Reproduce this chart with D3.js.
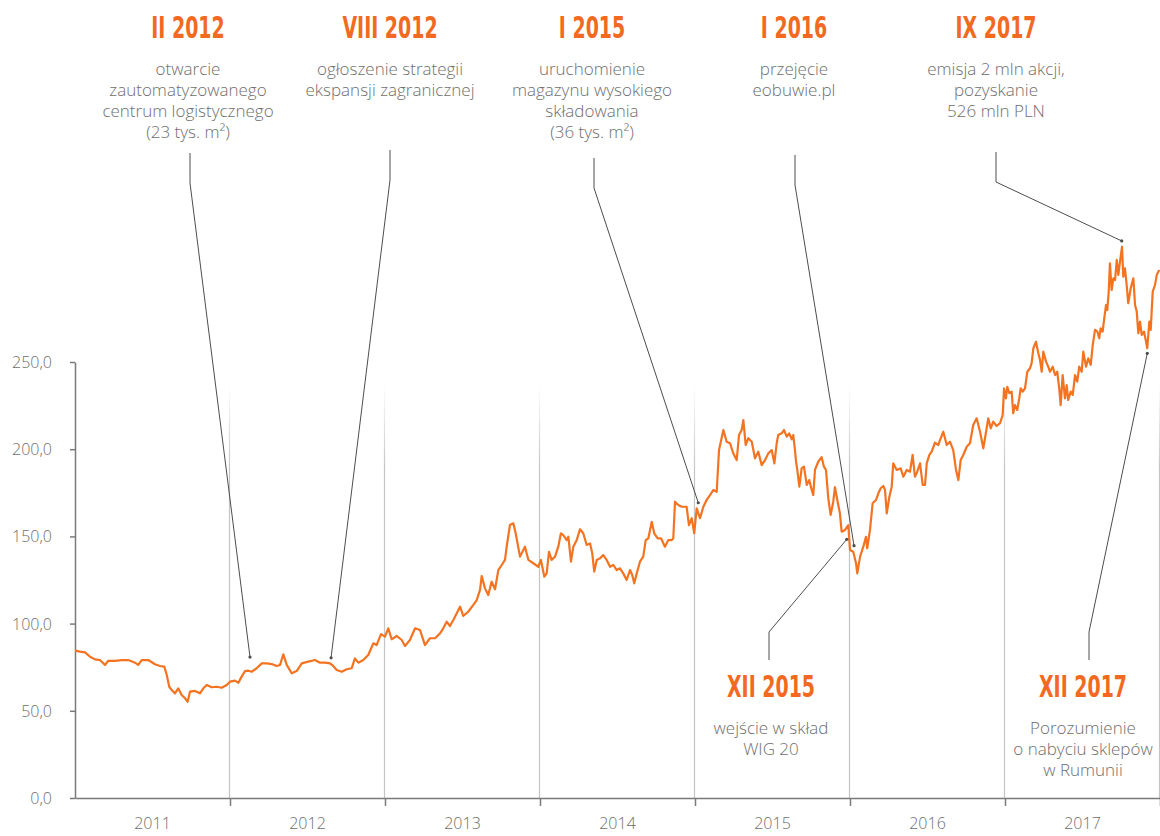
<!DOCTYPE html>
<html>
<head>
<meta charset="utf-8">
<script src="https://cdn.jsdelivr.net/npm/d3@7"></script>
<style>
  html, body { margin: 0; padding: 0; background: #fff; }
  svg { display: block; }
  .note { font-family: 'Open Sans', sans-serif; font-weight: 300; font-size: 17px; fill: #6e6e6e; }
  .head { font-family: 'Liberation Sans Narrow', 'DejaVu Sans Condensed', sans-serif; font-weight: bold; font-size: 31px; fill: #f26a21; }
  .axis text { font-family: 'Open Sans', sans-serif; font-weight: 300; font-size: 16px; fill: #6e6e6e; }
  .axis path, .axis line { stroke: #7a7a7a; stroke-width: 1.5px; }
</style>
</head>
<body>
<script>
// daily-ish closing prices (decimal year, PLN)
var times = [
  2011.000, 2011.032, 2011.065, 2011.097, 2011.129, 2011.161, 2011.194, 2011.215, 2011.258, 2011.301, 2011.344, 2011.387, 2011.408, 2011.430, 2011.473, 2011.516, 2011.548, 2011.576, 2011.592, 2011.608, 2011.624, 2011.645, 2011.666, 2011.688, 2011.710, 2011.727, 2011.742, 2011.774, 2011.806, 2011.828, 2011.850, 2011.882, 2011.914, 2011.946, 2011.979,
  2012.000, 2012.032, 2012.054, 2012.075, 2012.097, 2012.118, 2012.140, 2012.172, 2012.205, 2012.237, 2012.269, 2012.301, 2012.323, 2012.344, 2012.366, 2012.398, 2012.430, 2012.463, 2012.505, 2012.548, 2012.581, 2012.613, 2012.645, 2012.666, 2012.688, 2012.721, 2012.753, 2012.785, 2012.806, 2012.828, 2012.860, 2012.892, 2012.925, 2012.946, 2012.974,
  2013.000, 2013.021, 2013.043, 2013.075, 2013.108, 2013.129, 2013.161, 2013.194, 2013.226, 2013.258, 2013.290, 2013.323, 2013.355, 2013.376, 2013.398, 2013.419, 2013.441, 2013.463, 2013.484, 2013.505, 2013.537, 2013.570, 2013.592, 2013.613, 2013.624, 2013.645, 2013.666, 2013.688, 2013.710, 2013.731, 2013.753, 2013.774, 2013.785, 2013.806, 2013.828, 2013.843, 2013.871, 2013.903, 2013.925, 2013.957, 2013.989,
  2014.006, 2014.028, 2014.043, 2014.058, 2014.075, 2014.097, 2014.118, 2014.135, 2014.150, 2014.172, 2014.183, 2014.200, 2014.215, 2014.237, 2014.258, 2014.279, 2014.301, 2014.323, 2014.337, 2014.350, 2014.366, 2014.387, 2014.408, 2014.430, 2014.452, 2014.473, 2014.495, 2014.516, 2014.537, 2014.559, 2014.581, 2014.595, 2014.608, 2014.624, 2014.645, 2014.666, 2014.682, 2014.699, 2014.721, 2014.737, 2014.759, 2014.781, 2014.806, 2014.828, 2014.850, 2014.860, 2014.871, 2014.892, 2014.914, 2014.946, 2014.961, 2014.979, 2014.995,
  2015.011, 2015.032, 2015.054, 2015.075, 2015.097, 2015.118, 2015.140, 2015.155, 2015.183, 2015.204, 2015.226, 2015.247, 2015.269, 2015.284, 2015.301, 2015.312, 2015.327, 2015.344, 2015.366, 2015.387, 2015.408, 2015.430, 2015.452, 2015.473, 2015.495, 2015.512, 2015.527, 2015.537, 2015.559, 2015.574, 2015.592, 2015.608, 2015.624, 2015.634, 2015.645, 2015.652, 2015.660, 2015.673, 2015.688, 2015.703, 2015.721, 2015.737, 2015.753, 2015.763, 2015.774, 2015.795, 2015.817, 2015.832, 2015.845, 2015.860, 2015.875, 2015.892, 2015.903, 2015.918, 2015.935, 2015.946, 2015.968, 2015.989,
  2016.000, 2016.021, 2016.039, 2016.047, 2016.065, 2016.086, 2016.103, 2016.111, 2016.129, 2016.146, 2016.168, 2016.183, 2016.198, 2016.215, 2016.226, 2016.237, 2016.254, 2016.269, 2016.279, 2016.301, 2016.327, 2016.344, 2016.366, 2016.387, 2016.404, 2016.419, 2016.434, 2016.452, 2016.469, 2016.484, 2016.495, 2016.512, 2016.527, 2016.548, 2016.570, 2016.581, 2016.602, 2016.624, 2016.645, 2016.666, 2016.684, 2016.699, 2016.714, 2016.731, 2016.753, 2016.774, 2016.795, 2016.817, 2016.839, 2016.860, 2016.871, 2016.892, 2016.908, 2016.924, 2016.946, 2016.968, 2016.985, 2016.994,
  2017.006, 2017.015, 2017.028, 2017.043, 2017.053, 2017.065, 2017.079, 2017.092, 2017.101, 2017.114, 2017.129, 2017.144, 2017.161, 2017.172, 2017.183, 2017.200, 2017.215, 2017.226, 2017.237, 2017.247, 2017.265, 2017.279, 2017.290, 2017.308, 2017.323, 2017.337, 2017.350, 2017.359, 2017.372, 2017.387, 2017.398, 2017.408, 2017.424, 2017.437, 2017.452, 2017.466, 2017.479, 2017.495, 2017.505, 2017.523, 2017.537, 2017.553, 2017.566, 2017.581, 2017.596, 2017.608, 2017.617, 2017.630, 2017.639, 2017.652, 2017.660, 2017.669, 2017.677, 2017.688, 2017.699, 2017.710, 2017.721, 2017.731, 2017.742, 2017.755, 2017.763, 2017.774, 2017.785, 2017.795, 2017.811, 2017.828, 2017.839, 2017.850, 2017.860, 2017.871, 2017.882, 2017.897, 2017.910, 2017.918, 2017.931, 2017.940, 2017.953, 2017.968, 2017.979, 2017.995
];
var prices = [
  84.5, 83.9, 83.5, 81.0, 79.5, 79.1, 76.3, 78.7, 78.6, 79.1, 79.1, 77.6, 76.3, 79.1, 79.1, 76.7, 75.7, 75.3, 70.5, 63.8, 61.9, 60.0, 62.9, 59.1, 57.2, 55.2, 61.0, 61.4, 60.0, 62.9, 64.8, 63.5, 63.8, 63.2, 64.8,
  66.7, 67.3, 66.1, 69.6, 72.8, 73.0, 72.4, 74.4, 77.2, 77.2, 76.8, 75.7, 76.3, 82.4, 76.3, 71.5, 72.8, 77.2, 78.2, 79.1, 77.6, 77.6, 77.2, 75.7, 73.4, 72.4, 73.8, 74.4, 80.1, 77.6, 79.1, 82.0, 88.7, 87.7, 94.0,
  92.5, 97.3, 91.0, 92.9, 90.6, 87.2, 90.6, 97.3, 96.3, 87.7, 91.6, 91.6, 94.4, 97.3, 101.1, 98.6, 102.1, 105.9, 109.7, 104.4, 106.8, 110.7, 113.5, 119.3, 127.3, 120.2, 116.4, 124.0, 119.7, 130.7, 133.6, 136.5, 144.1, 156.5, 157.5, 151.8, 138.4, 144.1, 136.5, 134.6, 132.6,
  136.5, 126.9, 128.8, 141.2, 136.5, 138.4, 144.1, 151.8, 150.8, 147.9, 149.8, 135.5, 144.1, 147.9, 154.1, 151.8, 145.1, 146.0, 140.3, 129.8, 136.5, 137.4, 139.3, 136.5, 132.6, 133.6, 130.7, 131.7, 128.8, 125.0, 130.7, 127.9, 123.1, 128.8, 135.5, 138.4, 147.9, 148.9, 158.4, 151.8, 148.9, 148.9, 144.1, 147.9, 147.9, 148.9, 169.9, 168.0, 167.0, 167.0, 156.5, 160.4, 151.8,
  166.1, 160.4, 167.0, 170.9, 173.7, 176.6, 175.6, 199.5, 211.0, 204.3, 203.4, 197.6, 193.8, 208.1, 211.0, 216.7, 202.4, 206.3, 204.3, 194.8, 198.6, 190.9, 193.8, 197.6, 199.5, 191.9, 203.4, 208.1, 209.1, 211.0, 207.2, 209.1, 205.7, 208.1, 199.5, 192.8, 188.1, 178.5, 189.0, 190.0, 179.5, 182.3, 176.6, 173.7, 188.1, 192.8, 195.4, 190.0, 188.1, 171.8, 162.3, 169.9, 178.2, 170.9, 163.2, 152.7, 153.7, 156.5,
  142.2, 141.2, 134.6, 128.8, 138.4, 144.1, 149.8, 143.2, 153.7, 169.0, 170.9, 174.7, 177.6, 178.9, 176.6, 163.2, 172.8, 178.5, 191.9, 188.1, 189.0, 184.2, 188.1, 187.1, 196.7, 184.2, 187.1, 191.9, 179.5, 179.5, 191.9, 196.7, 198.6, 203.7, 202.4, 205.3, 210.0, 202.4, 204.3, 199.5, 188.1, 182.3, 193.8, 196.7, 201.4, 203.4, 213.9, 217.7, 210.0, 200.5, 206.3, 217.7, 212.0, 215.8, 213.3, 214.9, 219.6, 234.9,
  229.2, 235.8, 232.1, 233.0, 220.6, 225.3, 222.5, 229.2, 234.9, 233.0, 234.9, 244.4, 246.4, 249.3, 257.9, 261.6, 255.0, 251.1, 244.4, 255.9, 250.2, 247.3, 244.4, 247.3, 242.5, 244.4, 234.9, 225.3, 242.5, 229.2, 236.8, 228.2, 233.0, 231.1, 242.5, 238.7, 247.3, 244.4, 255.9, 247.3, 252.1, 248.3, 259.8, 268.4, 267.4, 263.6, 269.3, 267.4, 274.1, 282.7, 279.8, 290.3, 306.6, 291.3, 298.0, 297.0, 308.5, 299.9, 307.5, 316.1, 298.9, 303.7, 294.2, 283.7, 292.3, 298.0, 282.7, 278.9, 266.5, 273.1, 265.5, 267.4, 261.6, 257.9, 273.1, 268.4, 290.3, 294.2, 299.9, 302.8
];

var years = [2011, 2012, 2013, 2014, 2015, 2016, 2017];
var yTicks = [0, 50, 100, 150, 200, 250];

var eventTitles = ['II 2012', 'VIII 2012', 'I 2015', 'I 2016', 'IX 2017', 'XII 2015', 'XII 2017'];
var eventNotes = [
  ['otwarcie', 'zautomatyzowanego', 'centrum logistycznego', '(23 tys. m²)'],
  ['ogłoszenie strategii', 'ekspansji zagranicznej'],
  ['uruchomienie', 'magazynu wysokiego', 'składowania', '(36 tys. m²)'],
  ['przejęcie', 'eobuwie.pl'],
  ['emisja 2 mln akcji,', 'pozyskanie', '526 mln PLN'],
  ['wejście w skład', 'WIG 20'],
  ['Porozumienie', 'o nabyciu sklepów', 'w Rumunii']
];
var eventTimes = [2012.129, 2012.652, 2015.021, 2016.026, 2017.753, 2015.979, 2017.918];
var eventValues = [80.8, 80.4, 169.3, 144.7, 319.4, 148.3, 255.0];

// where each label block sits (centre x, leader start)
var labelLayout = [
  {cx: 188, above: true, lx: 190, ly: 153},
  {cx: 390, above: true, lx: 390, ly: 150},
  {cx: 592, above: true, lx: 594, ly: 158},
  {cx: 794, above: true, lx: 795, ly: 155},
  {cx: 996, above: true, lx: 996, ly: 152},
  {cx: 771, above: false, lx: 769, ly: 660},
  {cx: 1083, above: false, lx: 1089, ly: 660}
];

var width = 1160;
var height = 836;

var svg = d3.select('body').append('svg').attr('width', width).attr('height', height);

var x = d3.scaleLinear().domain([2011, 2018]).range([75, 1160]);
var y = d3.scaleLinear().domain([0, 250]).range([798, 362]);

var grad = svg.append('defs').append('linearGradient')
  .attr('id', 'fade')
  .attr('gradientUnits', 'userSpaceOnUse')
  .attr('x1', 0).attr('x2', 0).attr('y1', 385).attr('y2', 470);
grad.append('stop').attr('offset', 0).attr('stop-color', '#c4c4c4').attr('stop-opacity', 0);
grad.append('stop').attr('offset', 1).attr('stop-color', '#c4c4c4').attr('stop-opacity', 1);

// year separators
var bounds = years.map(function (d) { return d + 1; });
svg.append('g').selectAll('line')
  .data(bounds)
  .enter()
  .append('line')
  .attr('x1', function (d) { return x(d) - 0.5; })
  .attr('x2', function (d) { return x(d) - 0.5; })
  .attr('y1', 385)
  .attr('y2', y(0))
  .attr('stroke', 'url(#fade)')
  .attr('stroke-width', 1.2);

// x axis
var xAxis = svg.append('g')
  .attr('class', 'axis')
  .attr('transform', 'translate(0,' + y(0) + ')')
  .call(d3.axisBottom(x).tickValues(bounds).tickSize(8).tickSizeOuter(0).tickFormat(''));
xAxis.selectAll('.tick line').attr('stroke', '#a8a8a8').attr('stroke-width', 1.2);

svg.append('g').selectAll('text')
  .data(years)
  .enter()
  .append('text')
  .attr('class', 'note')
  .style('font-size', '16px')
  .attr('x', function (d) { return x(d + 0.5); })
  .attr('y', 829)
  .attr('text-anchor', 'middle')
  .text(function (d) { return d; });

// y axis
var fmt = function (d) { return d3.format('.1f')(d).replace('.', ','); };
svg.append('g')
  .attr('class', 'axis')
  .attr('transform', 'translate(75,0)')
  .call(d3.axisLeft(y).tickValues(yTicks).tickSize(5).tickSizeOuter(0).tickPadding(18).tickFormat(fmt))
  .selectAll('text')
  .attr('dy', '0.34em');

// price line
var line = d3.line()
  .x(function (d, i) { return x(times[i]); })
  .y(function (d) { return y(d); });

svg.append('path')
  .datum(prices)
  .attr('d', line)
  .attr('fill', 'none')
  .attr('stroke', '#f47321')
  .attr('stroke-width', 2.2)
  .attr('stroke-linejoin', 'round');

// annotations
var notes = svg.append('g');
eventTitles.forEach(function (title, i) {
  var lay = labelLayout[i];
  var ex = x(eventTimes[i]);
  var ey = y(eventValues[i]);
  var bend = lay.above ? lay.ly + 30 : lay.ly - 28;

  notes.append('path')
    .attr('d', d3.line()([[lay.lx, lay.ly], [lay.lx, bend], [ex, ey]]))
    .attr('fill', 'none')
    .attr('stroke', '#4d4d4d')
    .attr('stroke-width', 1);
  notes.append('circle')
    .attr('cx', ex).attr('cy', ey).attr('r', 1.6)
    .attr('fill', '#4d4d4d');

  var titleY = lay.above ? 38 : 697;
  var noteY = lay.above ? 75 : 734;

  // headline font here is wider than the original condensed face, squeeze it
  notes.append('g')
    .attr('transform', 'translate(' + lay.cx + ',' + titleY + ') scale(0.68,1)')
    .append('text')
    .attr('class', 'head')
    .attr('text-anchor', 'middle')
    .text(title);

  notes.append('text')
    .attr('class', 'note')
    .attr('text-anchor', 'middle')
    .selectAll('tspan')
    .data(eventNotes[i])
    .enter()
    .append('tspan')
    .attr('x', lay.cx)
    .attr('y', function (d, j) { return noteY + j * 21; })
    .text(function (d) { return d; });
});
</script>
</body>
</html>
